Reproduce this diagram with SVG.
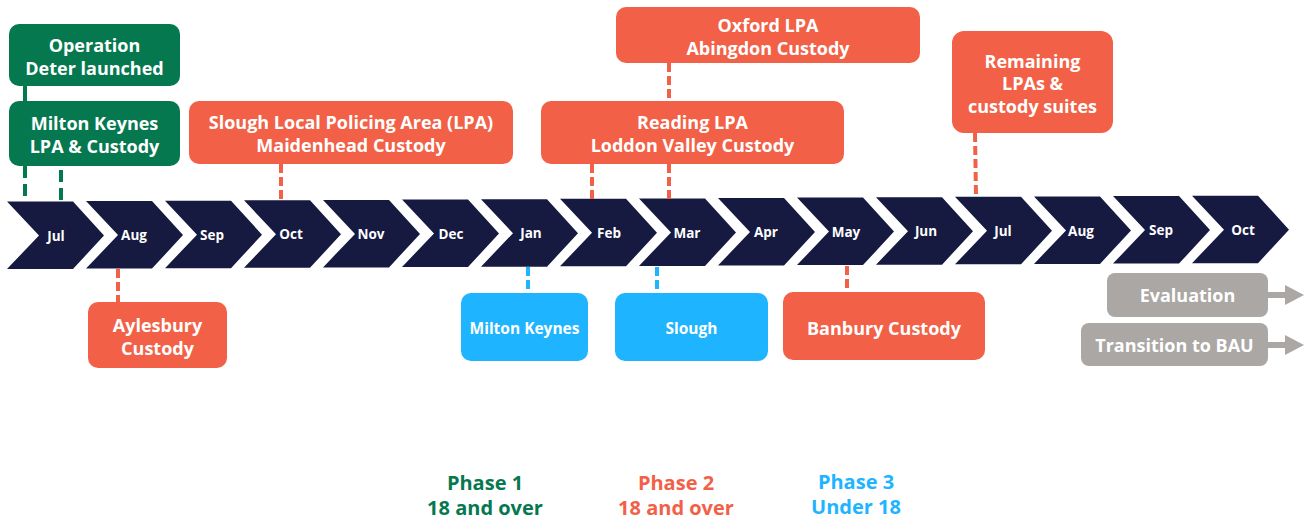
<svg xmlns="http://www.w3.org/2000/svg" width="1312" height="521" viewBox="0 0 1312 521">
<defs>
<style>
.chev{fill:#161a40}
.mon{font-family:"Open Sans","Noto Sans",sans-serif;font-weight:700;font-size:13.5px;fill:#ffffff;text-anchor:middle}
.box text{font-family:"Open Sans","Noto Sans",sans-serif;font-weight:700;font-size:18px;fill:#ffffff;text-anchor:middle}
.box text.sm{font-size:15.5px}
.green{fill:#05784f}
.orange{fill:#f26147}
.blue{fill:#1eb4ff}
.gray{fill:#aba7a4}
.cg{stroke:#05784f;stroke-width:4;fill:none}
.co{stroke:#f26147;stroke-width:4;fill:none;stroke-dasharray:9 4}
.cb{stroke:#1eb4ff;stroke-width:4;fill:none;stroke-dasharray:9 4}
.dash{stroke-dasharray:12 6}
.leg{font-family:"Open Sans","Noto Sans",sans-serif;font-weight:700;font-size:20px;text-anchor:middle}
</style>
<path id="chv" d="M0,0 H66 L97,34 L66,67.5 H0 L32,34 Z"/>
</defs>
<g id="timeline">
<use href="#chv" class="chev" x="7" y="201.5"/>
<use href="#chv" class="chev" x="86" y="201.1"/>
<use href="#chv" class="chev" x="165" y="200.7"/>
<use href="#chv" class="chev" x="244" y="200.3"/>
<use href="#chv" class="chev" x="323" y="199.9"/>
<use href="#chv" class="chev" x="402" y="199.5"/>
<use href="#chv" class="chev" x="481" y="199.2"/>
<use href="#chv" class="chev" x="560" y="198.8"/>
<use href="#chv" class="chev" x="639" y="198.4"/>
<use href="#chv" class="chev" x="718" y="198.0"/>
<use href="#chv" class="chev" x="797" y="197.6"/>
<use href="#chv" class="chev" x="876" y="197.2"/>
<use href="#chv" class="chev" x="955" y="196.8"/>
<use href="#chv" class="chev" x="1034" y="196.4"/>
<use href="#chv" class="chev" x="1113" y="196.1"/>
<use href="#chv" class="chev" x="1192" y="195.7"/>
<text class="mon" x="56" y="240.5">Jul</text>
<text class="mon" x="134" y="240">Aug</text>
<text class="mon" x="212" y="239.5">Sep</text>
<text class="mon" x="291" y="239">Oct</text>
<text class="mon" x="371" y="238.5">Nov</text>
<text class="mon" x="451" y="238.5">Dec</text>
<text class="mon" x="531" y="238">Jan</text>
<text class="mon" x="609" y="237.5">Feb</text>
<text class="mon" x="687" y="237.5">Mar</text>
<text class="mon" x="766" y="237">Apr</text>
<text class="mon" x="846" y="236.5">May</text>
<text class="mon" x="926" y="236">Jun</text>
<text class="mon" x="1003" y="235.5">Jul</text>
<text class="mon" x="1081" y="235.5">Aug</text>
<text class="mon" x="1161" y="235">Sep</text>
<text class="mon" x="1243" y="234.5">Oct</text>
</g>
<g id="connectors">
<line class="cg" x1="25" y1="86" x2="25" y2="101"/>
<line class="cg dash" x1="25" y1="166" x2="25" y2="202"/>
<line class="cg dash" x1="61" y1="170" x2="61" y2="200"/>
<line class="co" x1="281" y1="164" x2="281" y2="201"/>
<line class="co" x1="592" y1="164" x2="592" y2="199"/>
<line class="co" x1="669" y1="63" x2="669" y2="101"/>
<line class="co" x1="669" y1="164" x2="669" y2="199"/>
<line class="co" x1="975" y1="133" x2="976" y2="197"/>
<line class="co" x1="118" y1="269" x2="118" y2="302"/>
<line class="co" x1="847" y1="266" x2="847" y2="292"/>
<line class="cb" x1="528" y1="267" x2="528" y2="293"/>
<line class="cb" x1="657" y1="267" x2="657" y2="293"/>
<path d="M1268,295 H1287" stroke="#aba7a4" stroke-width="6"/>
<path d="M1285,285 L1304,295 L1285,305 Z" fill="#aba7a4"/>
<path d="M1268,345 H1287" stroke="#aba7a4" stroke-width="6"/>
<path d="M1285,335 L1304,345 L1285,355 Z" fill="#aba7a4"/>
</g>
<g id="op-deter" class="box">
<rect class="green" x="9" y="24" width="171" height="62" rx="10"/>
<text x="94.5" y="51.5">Operation</text>
<text x="94.5" y="74.5">Deter launched</text>
</g>
<g id="milton-keynes-lpa" class="box">
<rect class="green" x="9" y="101" width="171" height="65" rx="10"/>
<text x="94.5" y="129.5">Milton Keynes</text>
<text x="94.5" y="152.5">LPA &amp; Custody</text>
</g>
<g id="slough-lpa" class="box">
<rect class="orange" x="189" y="101" width="324" height="63" rx="10"/>
<text x="351" y="128.5">Slough Local Policing Area (LPA)</text>
<text x="351" y="151.5">Maidenhead Custody</text>
</g>
<g id="reading-lpa" class="box">
<rect class="orange" x="541" y="101" width="303" height="63" rx="10"/>
<text x="692.5" y="128.5">Reading LPA</text>
<text x="692.5" y="151.5">Loddon Valley Custody</text>
</g>
<g id="oxford-lpa" class="box">
<rect class="orange" x="616" y="7" width="304" height="56" rx="10"/>
<text x="768" y="31.5">Oxford LPA</text>
<text x="768" y="54.5">Abingdon Custody</text>
</g>
<g id="remaining" class="box">
<rect class="orange" x="952" y="31" width="161" height="102" rx="12"/>
<text x="1032.5" y="67.5">Remaining</text>
<text x="1032.5" y="90">LPAs &amp;</text>
<text x="1032.5" y="113">custody suites</text>
</g>
<g id="aylesbury" class="box">
<rect class="orange" x="88" y="302" width="139" height="66" rx="10"/>
<text x="157.5" y="331.5">Aylesbury</text>
<text x="157.5" y="354.5">Custody</text>
</g>
<g id="milton-keynes-u18" class="box">
<rect class="blue" x="461" y="293" width="127" height="68" rx="10"/>
<text class="sm" x="524.5" y="333.5">Milton Keynes</text>
</g>
<g id="slough-u18" class="box">
<rect class="blue" x="615" y="293" width="153" height="68" rx="10"/>
<text class="sm" x="691.5" y="333.5">Slough</text>
</g>
<g id="banbury" class="box">
<rect class="orange" x="783" y="292" width="202" height="68" rx="10"/>
<text x="884" y="334.5">Banbury Custody</text>
</g>
<g id="evaluation" class="box">
<rect class="gray" x="1107" y="273" width="161" height="44" rx="8"/>
<text x="1187.5" y="302">Evaluation</text>
</g>
<g id="transition" class="box">
<rect class="gray" x="1081" y="323" width="187" height="43" rx="8"/>
<text x="1174.5" y="351.5">Transition to BAU</text>
</g>
<g id="legend">
<text class="leg" x="485" y="490" fill="#05784f">Phase 1</text>
<text class="leg" x="485" y="515" fill="#05784f">18 and over</text>
<text class="leg" x="676" y="490" fill="#f26147">Phase 2</text>
<text class="leg" x="676" y="515" fill="#f26147">18 and over</text>
<text class="leg" x="856" y="489" fill="#1eb4ff">Phase 3</text>
<text class="leg" x="856" y="514" fill="#1eb4ff">Under 18</text>
</g>
</svg>
